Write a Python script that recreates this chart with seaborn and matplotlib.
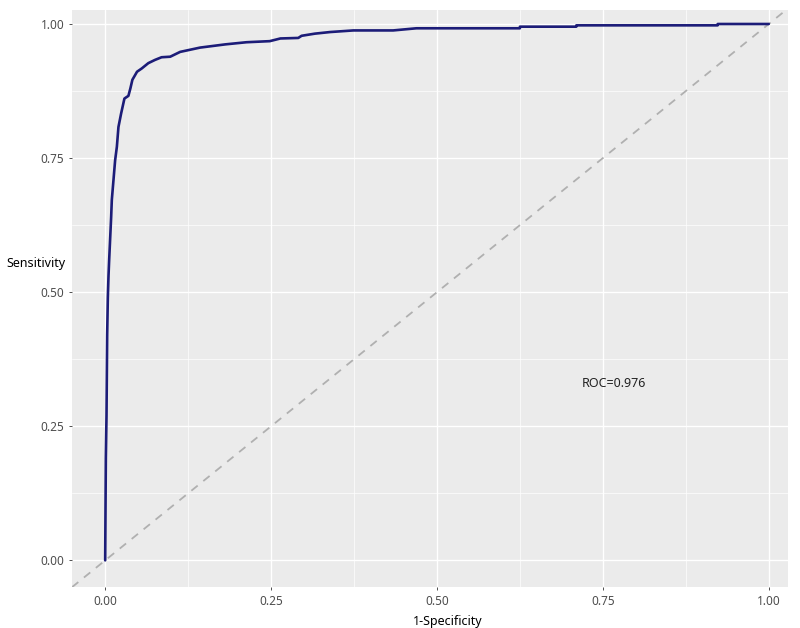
import pandas as pd
import matplotlib.pyplot as plt
import seaborn as sns

# ROC curve points (1-Specificity, Sensitivity)
fpr = [0.0, 0.001, 0.002, 0.003, 0.004, 0.005, 0.006, 0.0075, 0.009, 0.010,
       0.0125, 0.015, 0.0176, 0.020, 0.024, 0.029, 0.035, 0.038, 0.041, 0.048,
       0.055, 0.065, 0.075, 0.085, 0.098, 0.113, 0.143, 0.181, 0.213, 0.248,
       0.264, 0.291, 0.296, 0.316, 0.339, 0.374, 0.434, 0.469, 0.625, 0.625,
       0.710, 0.710, 0.923, 0.923, 1.0]
tpr = [0.0, 0.19, 0.27, 0.42, 0.49, 0.53, 0.56, 0.60, 0.64, 0.672,
       0.709, 0.746, 0.771, 0.808, 0.833, 0.861, 0.866, 0.880, 0.896, 0.911,
       0.917, 0.927, 0.933, 0.938, 0.939, 0.948, 0.956, 0.962, 0.966, 0.968,
       0.973, 0.974, 0.978, 0.982, 0.985, 0.988, 0.988, 0.992, 0.992, 0.995,
       0.995, 0.9975, 0.9975, 1.0, 1.0]
auc_value = 0.976
ticks = [0.0, 0.25, 0.5, 0.75, 1.0]
tick_labels = ["0.00", "0.25", "0.50", "0.75", "1.00"]

roc_df = pd.DataFrame({"fpr": fpr, "tpr": tpr})

sns.set_style("darkgrid", {"axes.facecolor": "#EBEBEB", "grid.color": "white"})
plt.rcParams["font.family"] = ["Noto Sans", "DejaVu Sans"]

fig = plt.figure(figsize=(8, 6.28), dpi=100)
ax = fig.add_axes([0.09, 0.065, 0.895, 0.919])

ax.axline((0, 0), slope=1, color="#B0B0B0", linestyle=(0, (4.5, 4)), linewidth=1.3)
sns.lineplot(roc_df, x="fpr", y="tpr", sort=False, estimator=None,
             color="#1c1c78", linewidth=1.9, ax=ax)

ax.set_xlim(-0.05, 1.029)
ax.set_ylim(-0.05, 1.026)
ax.set_xticks(ticks)
ax.set_xticklabels(tick_labels)
ax.set_yticks(ticks)
ax.set_yticklabels(tick_labels)
ax.set_xticks([0.125, 0.375, 0.625, 0.875], minor=True)
ax.set_yticks([0.125, 0.375, 0.625, 0.875], minor=True)
ax.grid(which="major", color="white", linewidth=1.0)
ax.grid(which="minor", color="white", linewidth=0.5)
ax.tick_params(which="major", length=2.5, width=0.6, color="#333333",
               labelcolor="#4D4D4D", labelsize=8.5, pad=3, left=True, bottom=True)
ax.tick_params(which="minor", length=0)
for s in ax.spines.values():
    s.set_visible(False)

ax.set_xlabel("1-Specificity", fontsize=9, color="black")
ax.xaxis.set_label_coords((448 / 800 - 0.09) / 0.895, -0.048)
ax.set_ylabel("")
fig.text(36 / 800, 1 - 264 / 628, "Sensitivity", fontsize=9, color="black",
         ha="center", va="center")

ax.text(0.767, 0.33, f"ROC={auc_value}", fontsize=9, color="#222222",
        ha="center", va="center")

fig.savefig("out.png", dpi=100)
